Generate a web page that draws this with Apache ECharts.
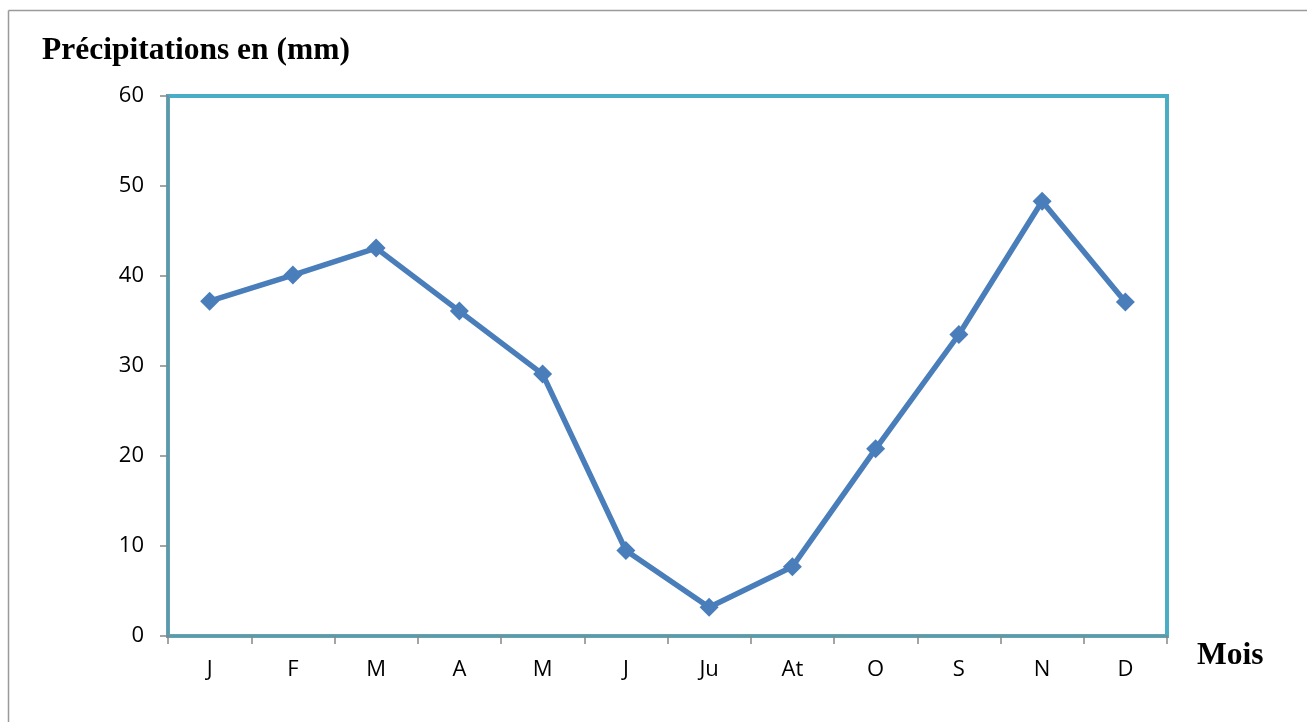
<!DOCTYPE html>
<html><head><meta charset="utf-8">
<script src="https://cdn.jsdelivr.net/npm/echarts@6/dist/echarts.min.js"></script>
<style>html,body{margin:0;padding:0;background:#fff}#c{width:1307px;height:722px}</style>
</head><body><div id="c"></div>
<script>
const months = ['J','F','M','A','M','J','Ju','At','O','S','N','D'];
const precipitation = [37.2, 40.1, 43.1, 36.1, 29.1, 9.5, 3.2, 7.7, 20.8, 33.5, 48.3, 37.1];
const yTicks = [0, 10, 20, 30, 40, 50, 60];

const chart = echarts.init(document.getElementById('c'));
chart.setOption({
  animation: false,
  backgroundColor: '#fff',
  graphic: [
    {type: 'line', shape: {x1: 8.5, y1: 10.5, x2: 1307, y2: 10.5}, style: {stroke: '#9a9a9a', lineWidth: 1.5}},
    {type: 'line', shape: {x1: 8.5, y1: 10.5, x2: 8.5, y2: 722}, style: {stroke: '#9a9a9a', lineWidth: 1.5}},
    {type: 'text', x: 42, y: 51, style: {text: 'Précipitations en (mm)', font: 'bold 31.5px "Liberation Serif"', fill: '#000', textVerticalAlign: 'middle'}},
    {type: 'text', x: 1197, y: 656, style: {text: 'Mois', font: 'bold 31.5px "Liberation Serif"', fill: '#000', textVerticalAlign: 'middle'}}
  ],
  grid: {left: 168, right: 140, top: 96, bottom: 86, show: true, borderColor: '#4BACC6', borderWidth: 4, backgroundColor: 'transparent'},
  xAxis: {
    type: 'category', data: months, boundaryGap: true,
    axisLine: {lineStyle: {color: '#868686', width: 1.5}},
    axisTick: {show: true, length: 8, alignWithLabel: false, lineStyle: {color: '#868686', width: 1.5}},
    axisLabel: {color: '#000', fontSize: 22, fontFamily: 'Open Sans', margin: 23},
    splitLine: {show: false}
  },
  yAxis: {
    type: 'value', min: yTicks[0], max: yTicks[yTicks.length - 1], interval: 10,
    axisLine: {show: true, lineStyle: {color: '#868686', width: 1.5}},
    axisTick: {show: true, length: 8, lineStyle: {color: '#868686', width: 1.5}},
    axisLabel: {color: '#000', fontSize: 22, fontFamily: 'Open Sans', margin: 24},
    splitLine: {show: false}
  },
  series: [{
    type: 'line', data: precipitation,
    symbol: 'diamond', symbolSize: 19,
    lineStyle: {color: '#4A7EBB', width: 5.5},
    itemStyle: {color: '#4A7EBB'}
  }]
});
</script></body></html>
